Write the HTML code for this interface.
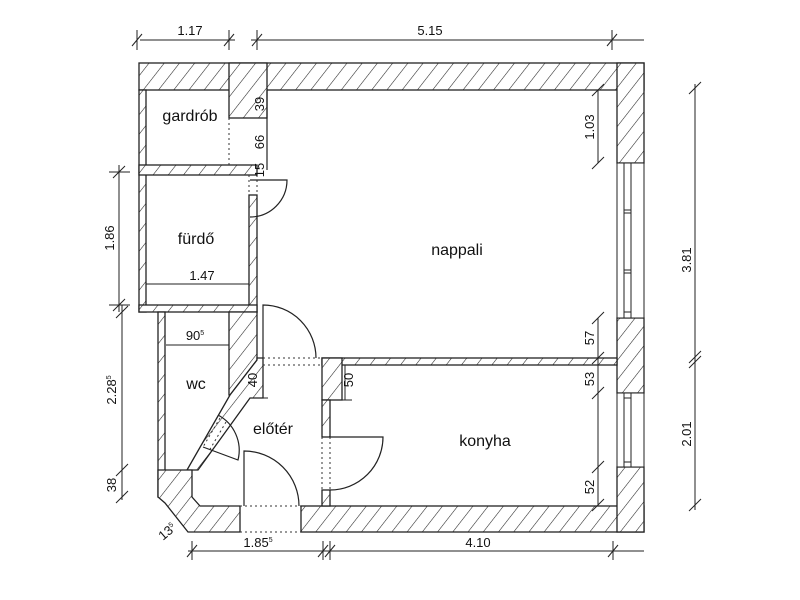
<!DOCTYPE html>
<html><head><meta charset="utf-8"><style>
html,body{margin:0;padding:0;background:#fff;width:800px;height:600px;overflow:hidden}
svg{display:block}
text{font-family:"Liberation Sans",sans-serif;fill:#111}
</style></head><body>
<svg width="800" height="600" viewBox="0 0 800 600" xmlns="http://www.w3.org/2000/svg">
<defs>
<pattern id="h" patternUnits="userSpaceOnUse" width="12" height="12" patternTransform="rotate(38)">
<rect width="12" height="12" fill="#fff"/><line x1="0" y1="0" x2="0" y2="12" stroke="#222" stroke-width="1.1"/>
</pattern>
</defs>
<g stroke="#222" stroke-width="1.3" fill="url(#h)">
<rect x="139" y="63" width="505" height="27"/>
<rect x="229" y="63" width="38" height="55"/>
<rect x="139" y="90" width="7" height="222"/>
<rect x="139" y="165" width="118" height="10"/>
<rect x="249" y="195" width="8" height="117"/>
<rect x="139" y="305" width="118" height="7"/>
<rect x="158" y="312" width="7" height="185"/>
<polygon points="229,312 257,312 257,360 230,395 229,395"/>
<polygon points="257,358 263,358 263,398 250,398 198,470 187,470 230,395 257,360"/>
<polygon points="158,470 192,470 192,497 200,506 240,506 240,532 188,532 165,503 158,497"/>
<rect x="301" y="506" width="343" height="26"/>
<rect x="617" y="63" width="27" height="100"/>
<rect x="617" y="318" width="27" height="75"/>
<rect x="617" y="467" width="27" height="65"/>
<rect x="322" y="358" width="295" height="7"/>
<rect x="322" y="358" width="20" height="42"/>
<rect x="322" y="400" width="8" height="37"/>
<rect x="322" y="490" width="8" height="16"/>
</g>
<g stroke="#222" stroke-width="1" fill="#fff">
<rect x="617" y="163" width="27" height="155"/>
<rect x="617" y="393" width="27" height="74"/>
<line x1="624" y1="163" x2="624" y2="318"/><line x1="631" y1="163" x2="631" y2="318"/>
<line x1="624" y1="393" x2="624" y2="467"/><line x1="631" y1="393" x2="631" y2="467"/>
<line x1="624" y1="210" x2="631" y2="210"/><line x1="624" y1="213" x2="631" y2="213"/>
<line x1="624" y1="270" x2="631" y2="270"/><line x1="624" y1="273" x2="631" y2="273"/>
<line x1="624" y1="312" x2="631" y2="312"/><line x1="624" y1="398" x2="631" y2="398"/><line x1="624" y1="462" x2="631" y2="462"/>
</g>
<g stroke="#333" stroke-width="1" stroke-dasharray="2,3" fill="none">
<line x1="229" y1="118" x2="229" y2="165"/><line x1="249" y1="175" x2="249" y2="195"/><line x1="257" y1="175" x2="257" y2="195"/>
<line x1="263" y1="358" x2="322" y2="358"/><line x1="263" y1="365" x2="322" y2="365"/>
<line x1="322" y1="437" x2="322" y2="490"/><line x1="330" y1="437" x2="330" y2="490"/>
<line x1="240" y1="506" x2="301" y2="506"/><line x1="240" y1="532" x2="301" y2="532"/>
<line x1="220" y1="418" x2="203" y2="447"/><line x1="226" y1="422" x2="209" y2="451"/>
</g>
<g stroke="#222" stroke-width="1.2" fill="none">
<path d="M250 180 H287 A37 37 0 0 1 250 217"/>
<path d="M263 358 V305 A53 53 0 0 1 316 358"/>
<path d="M330 437 H383 A53 53 0 0 1 330 490"/>
<path d="M244 506 V451 A55 55 0 0 1 299 506"/>
<path d="M218 415 A40 40 0 0 1 238 460 L203 447"/>
<line x1="267" y1="90" x2="267" y2="170"/>
</g>
<g stroke="#222" stroke-width="1" fill="none">
<line x1="140" y1="40" x2="235" y2="40"/><line x1="137" y1="30" x2="137" y2="50"/><line x1="229" y1="30" x2="229" y2="50"/>
<line x1="132" y1="46" x2="142" y2="34"/><line x1="224" y1="46" x2="234" y2="34"/>
<line x1="251" y1="40" x2="644" y2="40"/><line x1="257" y1="30" x2="257" y2="50"/><line x1="612" y1="30" x2="612" y2="50"/>
<line x1="252" y1="46" x2="262" y2="34"/><line x1="607" y1="46" x2="617" y2="34"/>
<line x1="695" y1="84" x2="695" y2="510"/>
<line x1="689" y1="94" x2="701" y2="82"/><line x1="689" y1="363" x2="701" y2="351"/><line x1="689" y1="368" x2="701" y2="356"/><line x1="689" y1="511" x2="701" y2="499"/>
<line x1="119" y1="165" x2="119" y2="312"/><line x1="113" y1="178" x2="125" y2="166"/><line x1="113" y1="311" x2="125" y2="299"/>
<line x1="109" y1="305" x2="130" y2="305"/><line x1="109" y1="172" x2="130" y2="172"/>
<line x1="122" y1="305" x2="122" y2="500"/><line x1="116" y1="318" x2="128" y2="306"/><line x1="116" y1="476" x2="128" y2="464"/><line x1="116" y1="503" x2="128" y2="491"/>
<line x1="188" y1="551" x2="644" y2="551"/><line x1="192" y1="541" x2="192" y2="560"/><line x1="323" y1="541" x2="323" y2="560"/><line x1="330" y1="541" x2="330" y2="560"/><line x1="613" y1="541" x2="613" y2="560"/>
<line x1="187" y1="557" x2="197" y2="545"/><line x1="318" y1="557" x2="328" y2="545"/><line x1="325" y1="557" x2="335" y2="545"/><line x1="608" y1="557" x2="618" y2="545"/>
<line x1="598" y1="90" x2="598" y2="163"/><line x1="592" y1="96" x2="604" y2="84"/><line x1="592" y1="169" x2="604" y2="157"/>
<line x1="598" y1="318" x2="598" y2="505"/>
<line x1="592" y1="324" x2="604" y2="312"/><line x1="592" y1="364" x2="604" y2="352"/><line x1="592" y1="399" x2="604" y2="387"/><line x1="592" y1="473" x2="604" y2="461"/><line x1="592" y1="511" x2="604" y2="499"/>
<line x1="146" y1="284" x2="249" y2="284"/><line x1="166" y1="345" x2="229" y2="345"/>
<line x1="345" y1="365" x2="345" y2="400"/><line x1="342" y1="400" x2="352" y2="400"/>
<line x1="257" y1="398" x2="268" y2="398"/>
</g>
<g font-size="16">
<text x="190" y="121" text-anchor="middle">gardrób</text>
<text x="196" y="244" text-anchor="middle">fürdő</text>
<text x="457" y="255" text-anchor="middle">nappali</text>
<text x="196" y="389" text-anchor="middle">wc</text>
<text x="273" y="434" text-anchor="middle">előtér</text>
<text x="485" y="446" text-anchor="middle">konyha</text>
</g>
<g font-size="13">
<text x="190" y="35" text-anchor="middle">1.17</text>
<text x="430" y="35" text-anchor="middle">5.15</text>
<text x="202" y="280" text-anchor="middle">1.47</text>
<text x="195" y="340" text-anchor="middle">90<tspan font-size="7" dy="-5">5</tspan></text>
<text x="258" y="547" text-anchor="middle">1.85<tspan font-size="7" dy="-5">5</tspan></text>
<text x="478" y="547" text-anchor="middle">4.10</text>
<text transform="translate(691,260) rotate(-90)" text-anchor="middle">3.81</text>
<text transform="translate(691,434) rotate(-90)" text-anchor="middle">2.01</text>
<text transform="translate(114,238) rotate(-90)" text-anchor="middle">1.86</text>
<text transform="translate(116,390) rotate(-90)" text-anchor="middle">2.28<tspan font-size="7" dy="-5">5</tspan></text>
<text transform="translate(116,485) rotate(-90)" text-anchor="middle">38</text>
<text transform="translate(594,127) rotate(-90)" text-anchor="middle">1.03</text>
<text transform="translate(594,338) rotate(-90)" text-anchor="middle">57</text>
<text transform="translate(594,379) rotate(-90)" text-anchor="middle">53</text>
<text transform="translate(594,487) rotate(-90)" text-anchor="middle">52</text>
<text transform="translate(264,104) rotate(-90)" text-anchor="middle">39</text>
<text transform="translate(264,142) rotate(-90)" text-anchor="middle">66</text>
<text transform="translate(264,170) rotate(-90)" text-anchor="middle">15</text>
<text transform="translate(257,380) rotate(-90)" text-anchor="middle">40</text>
<text transform="translate(353,380) rotate(-90)" text-anchor="middle">50</text>
<text transform="translate(170,535) rotate(-40)" text-anchor="middle">13<tspan font-size="7" dy="-5">5</tspan></text>
</g>
</svg>
</body></html>
